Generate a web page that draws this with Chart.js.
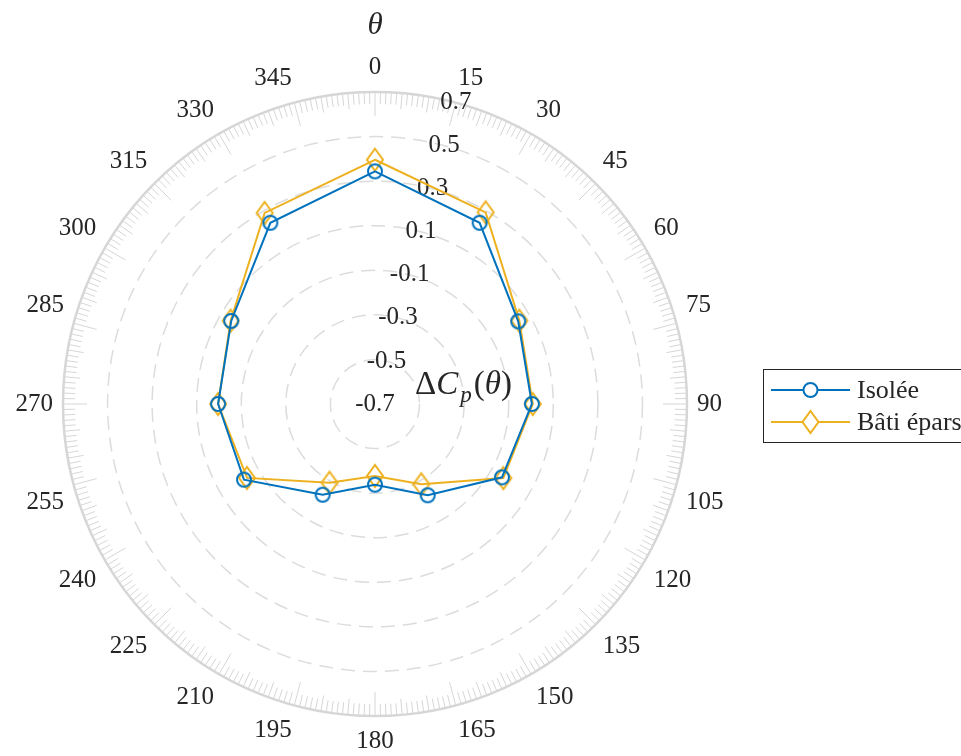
<!DOCTYPE html>
<html>
<head>
<meta charset="utf-8">
<script src="https://cdn.jsdelivr.net/npm/chart.js@4.4.0/dist/chart.umd.min.js"></script>
<style>
  html, body { margin: 0; padding: 0; background: #fff; overflow: hidden; }
  #wrap { width: 961px; height: 756px; }
</style>
</head>
<body>
<div id="wrap"><canvas id="polarChart" width="961" height="756"></canvas></div>
<script>
// angle labels around the plot (degrees, clockwise from top)
const thetaLabels = ['0', '15', '30', '45', '60', '75', '90', '105', '120', '135', '150', '165',
                     '180', '195', '210', '225', '240', '255', '270', '285', '300', '315', '330', '345'];
// angles where the pressure taps are
const tapAngles = [0, 30, 60, 90, 120, 150, 180, 210, 240, 270, 300, 330];
const isoleeCp = [0.344, 0.239, 0.042, 0.004, -0.042, -0.227, -0.338, -0.230, -0.021, 0.004, 0.045, 0.239];
const batiEparsCp = [0.396, 0.293, 0.048, 0.008, -0.035, -0.284, -0.377, -0.292, -0.037, 0.004, 0.048, 0.290];
const radialTicks = [-0.7, -0.5, -0.3, -0.1, 0.1, 0.3, 0.5, 0.7];

const BLUE = '#0072BD';
const ORANGE = '#EDB120';
const TEXT = '#262626';
const GRID = '#dcdcdc';
const SERIF = '"Liberation Serif", "Times New Roman", serif';

// put the values on the 15 degree slots used by the labels
function toSlots(values) {
    const slots = thetaLabels.map(() => null);
    tapAngles.forEach((a, i) => { slots[a / 15] = values[i]; });
    return slots;
}

function drawMarker(g, kind, x, y, color, fill) {
    g.save();
    g.strokeStyle = color;
    g.lineWidth = 2;
    g.beginPath();
    if (kind === 'circle') {
        g.arc(x, y, 7, 0, Math.PI * 2);
    } else {
        g.moveTo(x, y - 11);
        g.lineTo(x + 8, y);
        g.lineTo(x, y + 11);
        g.lineTo(x - 8, y);
        g.closePath();
    }
    if (fill) { g.fillStyle = fill; g.fill(); }
    g.stroke();
    g.restore();
}

function markerImage(kind, color) {
    const c = document.createElement('canvas');
    c.width = 22; c.height = 28;
    drawMarker(c.getContext('2d'), kind, 11, 14, color);
    return c;
}

const polarDecor = {
    id: 'polarDecor',
    beforeDatasetsDraw(chart) {
        const scale = chart.scales.r;
        const ctx = chart.ctx;
        const cx = scale.xCenter, cy = scale.yCenter;
        const R = scale.getDistanceFromCenterForValue(scale.max);

        // outer theta ring with 1 degree ticks
        ctx.save();
        ctx.strokeStyle = '#d6d6d6';
        ctx.lineWidth = 2.5;
        ctx.beginPath();
        ctx.arc(cx, cy, R, 0, Math.PI * 2);
        ctx.stroke();
        ctx.lineWidth = 1;
        for (let d = 0; d < 360; d++) {
            const len = d % 15 === 0 ? 24 : (d % 5 === 0 ? 16 : 12);
            const a = d * Math.PI / 180;
            const s = Math.sin(a), c = Math.cos(a);
            ctx.beginPath();
            ctx.moveTo(cx + R * s, cy - R * c);
            ctx.lineTo(cx + (R - len) * s, cy - (R - len) * c);
            ctx.stroke();
        }
        ctx.restore();

        // radial tick labels along the 15 degree line
        ctx.save();
        ctx.fillStyle = TEXT;
        ctx.font = '25px ' + SERIF;
        ctx.textAlign = 'center';
        ctx.textBaseline = 'middle';
        const ra = 15 * Math.PI / 180;
        scale.ticks.forEach(t => {
            const d = scale.getDistanceFromCenterForValue(t.value);
            ctx.fillText(t.value.toFixed(1), cx + d * Math.sin(ra), cy - d * Math.cos(ra));
        });

        // theta axis title
        ctx.font = 'italic 31px ' + SERIF;
        ctx.fillText('\u03B8', cx, cy - R - 66);

        // r axis title: ΔCp(θ)
        ctx.textAlign = 'left';
        ctx.textBaseline = 'alphabetic';
        let x = cx + 40;
        const y = cy - 10;
        const parts = [
            ['\u0394', '33px ', 0],
            ['C', 'italic 33px ', 0],
            ['p', 'italic 23px ', 8],
            ['(', '33px ', 0],
            ['\u03B8', 'italic 33px ', 0],
            [')', '33px ', 0]
        ];
        parts.forEach(([txt, f, dy]) => {
            ctx.font = f + SERIF;
            ctx.fillText(txt, x, y + dy);
            x += ctx.measureText(txt).width + (txt === 'C' || txt === 'p' ? 2 : 0);
        });
        ctx.restore();
    },
    afterDraw(chart) {
        const ctx = chart.ctx;
        const bx = 763, by = 369, bw = 210, bh = 73;
        ctx.save();
        ctx.fillStyle = '#fff';
        ctx.fillRect(bx, by, bw, bh);
        ctx.strokeStyle = TEXT;
        ctx.lineWidth = 1;
        ctx.strokeRect(bx + 0.5, by + 0.5, bw, bh);
        ctx.font = '26px ' + SERIF;
        ctx.textBaseline = 'middle';
        chart.data.datasets.forEach((ds, i) => {
            const y = by + 21 + i * 32;
            ctx.strokeStyle = ds.borderColor;
            ctx.lineWidth = 2;
            ctx.beginPath();
            ctx.moveTo(771, y);
            ctx.lineTo(850, y);
            ctx.stroke();
            drawMarker(ctx, ds.markerKind, 810.5, y, ds.borderColor, '#fff');
            ctx.fillStyle = TEXT;
            ctx.fillText(ds.label, 857, y + 1);
        });
        ctx.restore();
    }
};

new Chart(document.getElementById('polarChart'), {
    type: 'radar',
    data: {
        labels: thetaLabels,
        datasets: [
            {
                label: 'Isolée',
                markerKind: 'circle',
                data: toSlots(isoleeCp),
                borderColor: BLUE,
                borderWidth: 2,
                pointStyle: markerImage('circle', BLUE),
                pointRadius: 7,
                fill: false,
                spanGaps: true
            },
            {
                label: 'Bâti épars',
                markerKind: 'diamond',
                data: toSlots(batiEparsCp),
                borderColor: ORANGE,
                borderWidth: 2,
                pointStyle: markerImage('diamond', ORANGE),
                pointRadius: 8,
                fill: false,
                spanGaps: true
            }
        ]
    },
    options: {
        responsive: false,
        animation: false,
        layout: {
            padding: { left: 0, right: 221, top: 52, bottom: -2 }
        },
        plugins: {
            legend: { display: false },
            tooltip: { enabled: false }
        },
        scales: {
            r: {
                min: -0.7,
                max: 0.7,
                startAngle: 0,
                afterBuildTicks: (scale) => {
                    scale.ticks = radialTicks.map(v => ({ value: v }));
                },
                ticks: { display: false },
                angleLines: { display: false },
                grid: {
                    circular: true,
                    color: (c) => (c.tick && c.tick.value >= 0.7 ? 'rgba(0,0,0,0)' : GRID),
                    lineWidth: 1.5,
                    borderDash: [14, 8]
                },
                border: { dash: [14, 8] },
                pointLabels: {
                    color: TEXT,
                    padding: 10,
                    font: { family: SERIF, size: 25 }
                }
            }
        }
    },
    plugins: [polarDecor]
});
</script>
</body>
</html>
